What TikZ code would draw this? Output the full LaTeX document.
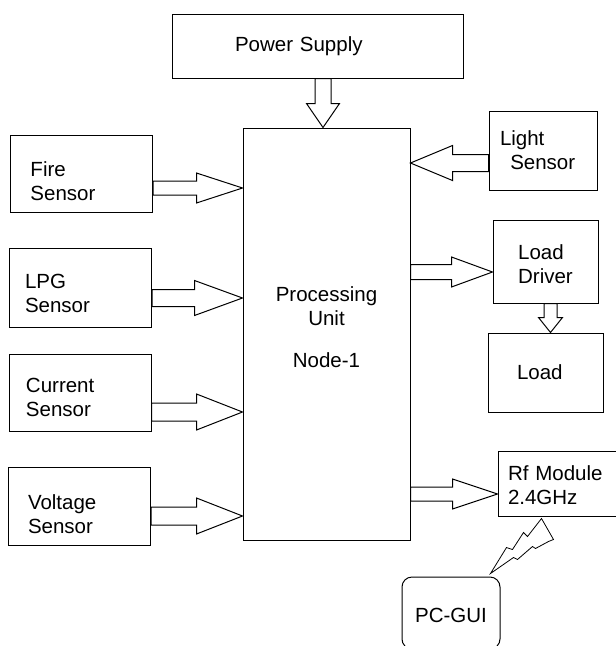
\documentclass[tikz,border=0pt]{standalone}
\usepackage{fontspec}
\setmainfont{Liberation Sans}
\usetikzlibrary{calc}
\newcommand{\txtdown}[1]{\rule{0pt}{\dimexpr14.7pt+#1*2\relax}}
\newcommand{\txtup}[1]{\rule[\dimexpr-#1*2\relax]{0pt}{0pt}}

\begin{document}
\begin{tikzpicture}[
  x=1pt, y=-1pt,
  box/.style={rectangle, draw, line width=1pt, inner sep=0pt,
              font=\fontsize{20.5}{24}\selectfont, align=left},
  sensor/.style={box, minimum width=142pt, minimum height=77pt},
  barrow/.style n args={3}{draw, line width=1pt, fill=white, line join=miter,
    to path={($(\tikztostart)!#1pt!90:(\tikztotarget)$)
      -- ($(\tikztotarget)!#3pt!(\tikztostart)!#1pt!-90:(\tikztostart)$)
      -- ($(\tikztotarget)!#3pt!(\tikztostart)!#2pt!-90:(\tikztostart)$)
      -- (\tikztotarget)
      -- ($(\tikztotarget)!#3pt!(\tikztostart)!#2pt!90:(\tikztostart)$)
      -- ($(\tikztotarget)!#3pt!(\tikztostart)!#1pt!90:(\tikztostart)$)
      -- ($(\tikztostart)!#1pt!-90:(\tikztotarget)$) -- cycle}},
  bolt/.style={draw, line width=0.8pt, fill=white},
]
  \path[use as bounding box, fill=white] (0,0) rectangle (616,646);

  \node[box, minimum width=291pt, minimum height=64pt, text width=165pt] (ps) at (317.5,46) {Power Supply};
  \node[box, align=center, minimum width=167pt, minimum height=412pt] (pu) at (326.5,334) {Processing\\Unit\\[18pt]Node-1\txtup{7pt}};

  \node[sensor, text width=102pt] (fire) at (81.5,174) {\txtdown{7pt}Fire\\Sensor};
  \node[sensor, text width=111pt, minimum height=79pt] (lpg) at (80.5,287.5) {\txtdown{6pt}LPG\\Sensor};
  \node[sensor, text width=108pt] (cur) at (80,393) {\txtdown{4.5pt}Current\\Sensor};
  \node[sensor, text width=103pt, minimum height=78pt] (volt) at (79.5,506) {\txtdown{8pt}Voltage\\Sensor};

  \node[box, minimum width=108pt, minimum height=79pt, text width=86pt] (light) at (543,150.5) {Light\\\hspace{0.5em}Sensor};
  \node[box, minimum width=105pt, minimum height=83pt] (ld) at (545.5,261.5) {\txtdown{3pt}Load\\Driver};
  \node[box, minimum width=115pt, minimum height=79pt, text width=57pt] (load) at (545.5,372.5) {Load};
  \node[box, minimum width=118pt, minimum height=65pt, text width=98pt] (rf) at (557,483.5) {\txtdown{2pt}Rf Module\\2.4GHz};
  \node[box, align=center, rounded corners=10pt, minimum width=98pt, minimum height=72pt] (pc) at (451,613) {\txtdown{2pt}PC-GUI};

  \draw[barrow={8}{16.5}{24}] ($(pu.north |- ps.south)+(-3.5,0)$) to ($(pu.north)+(-3.5,0)$);
  \draw[barrow={7}{15}{46}] ($(fire.east)+(0,14)$) to ($(fire.east -| pu.west)+(0,14)$);
  \draw[barrow={8.5}{17.5}{48}] ($(lpg.east)+(0,10.5)$) to ($(lpg.east -| pu.west)+(0,10.5)$);
  \draw[barrow={9}{18}{46}] ($(cur.east)+(0,19)$) to ($(cur.east -| pu.west)+(0,19)$);
  \draw[barrow={9}{18}{46}] ($(volt.east)+(0,10)$) to ($(volt.east -| pu.west)+(0,10)$);
  \draw[barrow={8.5}{17.5}{42}] ($(light.west)+(0,12.5)$) to ($(light.west -| pu.east)+(0,12.5)$);
  \draw[barrow={7.5}{15}{41}] ($(ld.west -| pu.east)+(0,10.5)$) to ($(ld.west)+(0,10.5)$);
  \draw[barrow={6.5}{12}{15}] ($(ld.south)+(5,0)$) to ($(load.north)+(5,0)$);
  \draw[barrow={7}{15}{45}] ($(rf.west -| pu.east)+(0,10.5)$) to ($(rf.west)+(0,10.5)$);

  \draw[bolt] ([xshift=-10pt,yshift=3pt]pc.north east) -- ++(16,-26) -- ++(6,2) -- ++(11,-17)
    -- ++(4,4) -- ++(14,-18) -- ++(12,21) -- ++(-5,2) -- ++(-13,7) -- ++(-3,-2)
    -- ++(-15,13) -- ++(-4,-2) -- cycle;
\end{tikzpicture}
\end{document}
